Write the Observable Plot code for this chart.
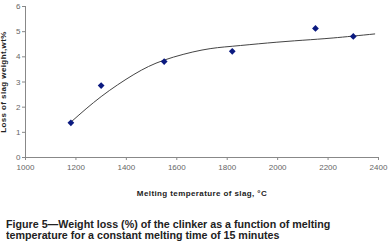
<!DOCTYPE html>
<html><head><meta charset="utf-8">
<script src="https://cdn.jsdelivr.net/npm/d3@7"></script>
<script src="https://cdn.jsdelivr.net/npm/@observablehq/plot@0.6"></script>
<style>
body{margin:0;background:#fff;width:389px;height:250px;overflow:hidden;}
#chart svg{display:block;}
#cap{position:absolute;left:6px;top:219px;width:420px;font-family:"Liberation Sans",Arial,sans-serif;font-weight:bold;font-size:11.5px;line-height:11px;color:#222;transform:scaleX(0.93);transform-origin:0 0;}
</style>
</head><body>
<div id="chart"></div>
<div id="cap">Figure 5—Weight loss (%) of the clinker as a function of melting<br>temperature for a constant melting time of 15 minutes</div>
<script>
const temps = [1180, 1300, 1550, 1820, 2150, 2300];
const losses = [1.38, 2.86, 3.81, 4.22, 5.13, 4.81];
const trendTemps = [1185, 1300, 1430, 1550, 1700, 1820, 1960, 2100, 2220, 2385];
const trendLoss = [1.45, 2.42, 3.30, 3.87, 4.27, 4.42, 4.55, 4.66, 4.75, 4.91];
const xTicks = [1000, 1200, 1400, 1600, 1800, 2000, 2200, 2400];
const yTicks = [0, 1, 2, 3, 4, 5, 6];

const pts = temps.map((t, i) => ({t, v: losses[i]}));
const trend = trendTemps.map((t, i) => ({t, v: trendLoss[i]}));

const chart = Plot.plot({
  width: 389,
  height: 205,
  marginLeft: 25,
  marginRight: 11,
  marginTop: 6,
  marginBottom: 48,
  style: {fontFamily: "Liberation Sans, Arial, sans-serif", fontSize: "8px", color: "#666", background: "#fff"},
  x: {domain: [1000, 2400]},
  y: {domain: [0, 6]},
  marks: [
    Plot.axisX({ticks: xTicks, tickFormat: d => String(d), tickSize: 3, tickPadding: 4, stroke: "#888", label: "Melting temperature of slag, °C", labelAnchor: "center", labelArrow: "none", labelOffset: 38}),
    Plot.axisY({ticks: yTicks, tickFormat: d => String(d), tickSize: 3, tickPadding: 2, stroke: "#888", label: "Loss of slag weight,wt%", labelAnchor: "center", labelArrow: "none", labelOffset: 25}),
    Plot.ruleX([1000], {stroke: "#888"}),
    Plot.ruleY([0], {stroke: "#888"}),
    Plot.line(trend, {x: "t", y: "v", curve: "natural", stroke: "#444", strokeWidth: 1}),
    Plot.dot(pts, {x: "t", y: "v", symbol: "square", r: 2.7, rotate: 45, fill: "#0b1a80", stroke: "none"})
  ]
});
document.getElementById("chart").appendChild(chart);
chart.querySelectorAll("g[aria-label='x-axis label'] text, g[aria-label='y-axis label'] text").forEach(t => {
  t.style.fontWeight = "bold"; t.style.fill = "#222"; t.style.letterSpacing = "0.4px";
});
</script>
</body></html>
